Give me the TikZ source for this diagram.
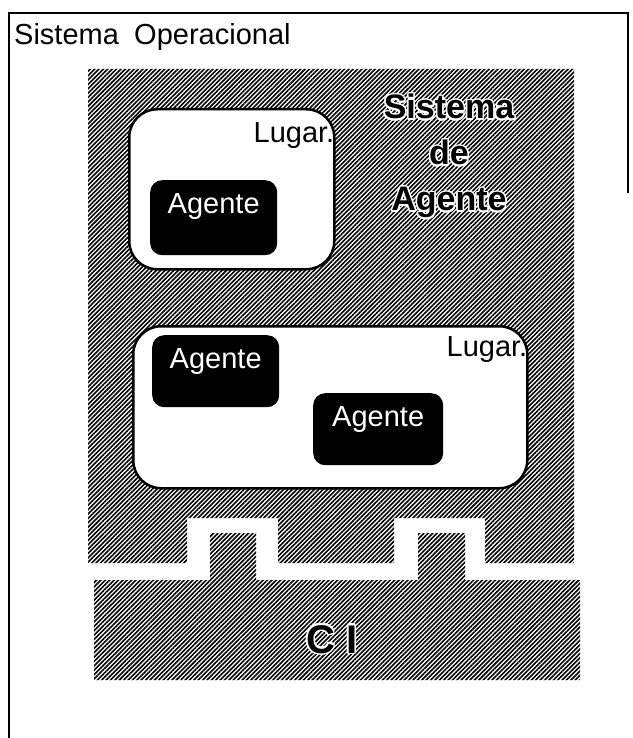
\documentclass[tikz,border=0pt]{standalone}
\usepackage{fontspec}
\setmainfont{Liberation Sans}
\usepackage{contour}
\contourlength{1.5pt}
\usetikzlibrary{patterns.meta}

\tikzset{
  hachura/.style={pattern={Lines[angle=45,distance=3.1pt,line width=1.6pt]}, pattern color=black},
  lugar/.style={draw, line width=2.5pt, fill=white, rounded corners=28pt, inner sep=0pt},
  agente/.style={fill=black, text=white, rounded corners=12pt, minimum width=127pt,
    inner xsep=4pt, inner ysep=5pt, text height=28pt, text depth=37pt, font=\fontsize{29}{32}\selectfont},
  rotulo/.style={inner sep=0pt, font=\fontsize{29}{32}\selectfont}
}

\begin{document}
\begin{tikzpicture}[x=1pt, y=-1pt]

\useasboundingbox (0,0) rectangle (632,738);

\draw[line width=2pt] (9,738) -- (9,13) -- (628,13) -- (628,193);

\node[rotulo, anchor=base west] (titulo) at (14,45) {Sistema\hspace{0.25em} Operacional};

% sistema de agente, com as ranhuras em baixo
\fill[hachura] (88,69) -- (574,69) -- (574,563) -- (485,563) -- (485,518) -- (394,518)
  -- (394,563) -- (278,563) -- (278,518) -- (187,518) -- (187,563) -- (88,563) -- cycle;

% CI, com os dentes em cima
\fill[hachura] (94,580) -- (210,580) -- (210,533) -- (256,533) -- (256,580) -- (418,580)
  -- (418,533) -- (465,533) -- (465,580) -- (580,580) -- (580,680) -- (94,680) -- cycle;

\node[align=center, font=\fontsize{34}{46}\selectfont\bfseries] (sistema) at (449,157)
  {\contour{white}{Sistema}\\\contour{white}{de}\\\contour{white}{Agente}};

\node[font=\fontsize{40}{42}\selectfont\bfseries] (ci) at (332,640) {\contour{white}{C I}};

\node[lugar, anchor=north west, minimum width=205pt, minimum height=160pt] (lugarA) at (128,108) {};
\node[lugar, anchor=north west, minimum width=394pt, minimum height=162pt] (lugarB) at (132,325) {};

\node[rotulo, anchor=north east] (lugA) at ([xshift=-1pt, yshift=-14pt]lugarA.north east) {Lugar.};
\node[rotulo, anchor=north east] (lugB) at ([xshift=-1pt, yshift=-11pt]lugarB.north east) {Lugar.};

\node[agente, anchor=north west] (agenteA) at (150,180) {Agente};
\node[agente, anchor=north west, text depth=34pt] (agenteB) at (152,335) {Agente};
\node[agente, anchor=north west, minimum width=130pt, text depth=34pt] (agenteC) at (313,393) {Agente};

\end{tikzpicture}
\end{document}
